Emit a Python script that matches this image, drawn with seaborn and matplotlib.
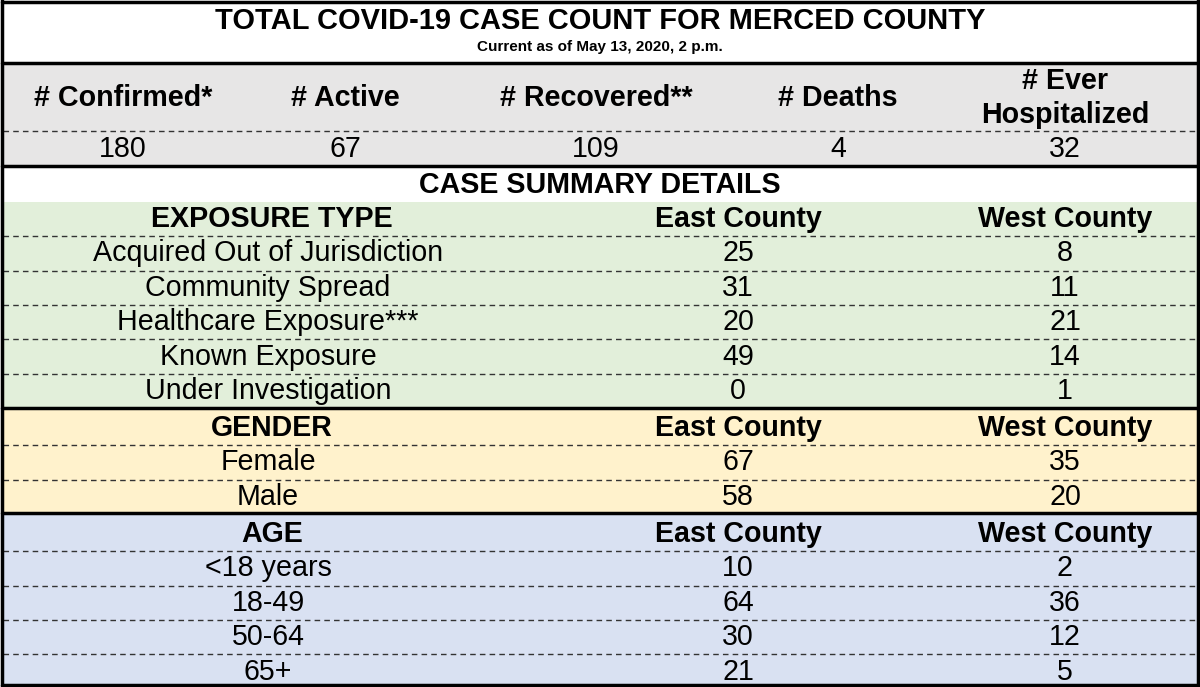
import matplotlib
matplotlib.use("Agg")
import matplotlib.pyplot as plt
import seaborn as sns

sns.set_theme(style="white")
plt.rcParams['font.family'] = ['Liberation Sans', 'DejaVu Sans']
plt.rcParams['text.color'] = 'black'

title = "TOTAL COVID-19 CASE COUNT FOR MERCED COUNTY"
subtitle = "Current as of May 13, 2020, 2 p.m."
summary_labels = ["# Confirmed*", "# Active", "# Recovered**", "# Deaths", "# Ever\nHospitalized"]
summary_values = [180, 67, 109, 4, 32]
exposure_types = ["Acquired Out of Jurisdiction", "Community Spread", "Healthcare Exposure***",
                  "Known Exposure", "Under Investigation"]
exposure_east = [25, 31, 20, 49, 0]
exposure_west = [8, 11, 21, 14, 1]
genders = ["Female", "Male"]
gender_east = [67, 58]
gender_west = [35, 20]
ages = ["<18 years", "18-49", "50-64", "65+"]
age_east = [10, 64, 30, 21]
age_west = [2, 36, 12, 5]

W, H = 1200, 687
fig = plt.figure(figsize=(12, 6.87), dpi=100)
ax = fig.add_axes([0, 0, 1, 1])
ax.set_xlim(0, W)
ax.set_ylim(H, 0)
ax.axis("off")

def band(y0, y1, color):
    ax.fill_between([3, W - 3], y0, y1, color=color, lw=0, zorder=0)

def solid(y):
    ax.plot([2, W - 2], [y, y], color="black", lw=2.5, zorder=3)

def dashed(y):
    ax.plot([3, W - 3], [y, y], color="#333333", lw=1, ls=(0, (4, 3)), zorder=2)

GRAY, GREEN, YEL, BLUE = "#E7E6E6", "#E2EFDA", "#FFF2CC", "#D9E1F2"
band(63, 166, GRAY)
band(202, 408, GREEN)
band(408, 513, YEL)
band(513, H, BLUE)

BF, NF = 20.6, 20.6
ax.text(600, 21, title, ha="center", va="center", fontsize=20.9, fontweight="bold")
ax.text(600, 47, subtitle, ha="center", va="center", fontsize=11, fontweight="bold")

xs = [123, 345, 596, 838, 1065]
for x, lab, v in zip(xs, summary_labels, summary_values):
    ax.text(x, 98, lab, ha="center", va="center", fontsize=BF, fontweight="bold", linespacing=1.3)
    ax.text(x, 149, str(v), ha="center", va="center", fontsize=NF)
dashed(131)
ax.text(600, 185, "CASE SUMMARY DETAILS", ha="center", va="center", fontsize=BF, fontweight="bold")

XL, XE, XW = 268, 738, 1065
RH = 34.4

def section(y_head, header, labels, east, west, hx=272):
    ax.text(hx, y_head, header, ha="center", va="center", fontsize=BF, fontweight="bold")
    ax.text(XE, y_head, "East County", ha="center", va="center", fontsize=BF, fontweight="bold")
    ax.text(XW, y_head, "West County", ha="center", va="center", fontsize=BF, fontweight="bold")
    for i, (lab, e, w) in enumerate(zip(labels, east, west)):
        y = y_head + RH * (i + 1)
        dashed(y - RH / 2)
        ax.text(XL, y, lab, ha="center", va="center", fontsize=NF)
        ax.text(XE, y, str(e), ha="center", va="center", fontsize=NF)
        ax.text(XW, y, str(w), ha="center", va="center", fontsize=NF)

section(219, "EXPOSURE TYPE", exposure_types, exposure_east, exposure_west)
section(428, "GENDER", genders, gender_east, gender_west)
section(534, "AGE", ages, age_east, age_west)

for y in [2, 63, 166, 408, 513, H - 2]:
    solid(y)
ax.plot([2, 2], [0, H], color="black", lw=2.5, zorder=3)
ax.plot([W - 2, W - 2], [0, H], color="black", lw=2.5, zorder=3)

fig.savefig("out.png", dpi=100)
